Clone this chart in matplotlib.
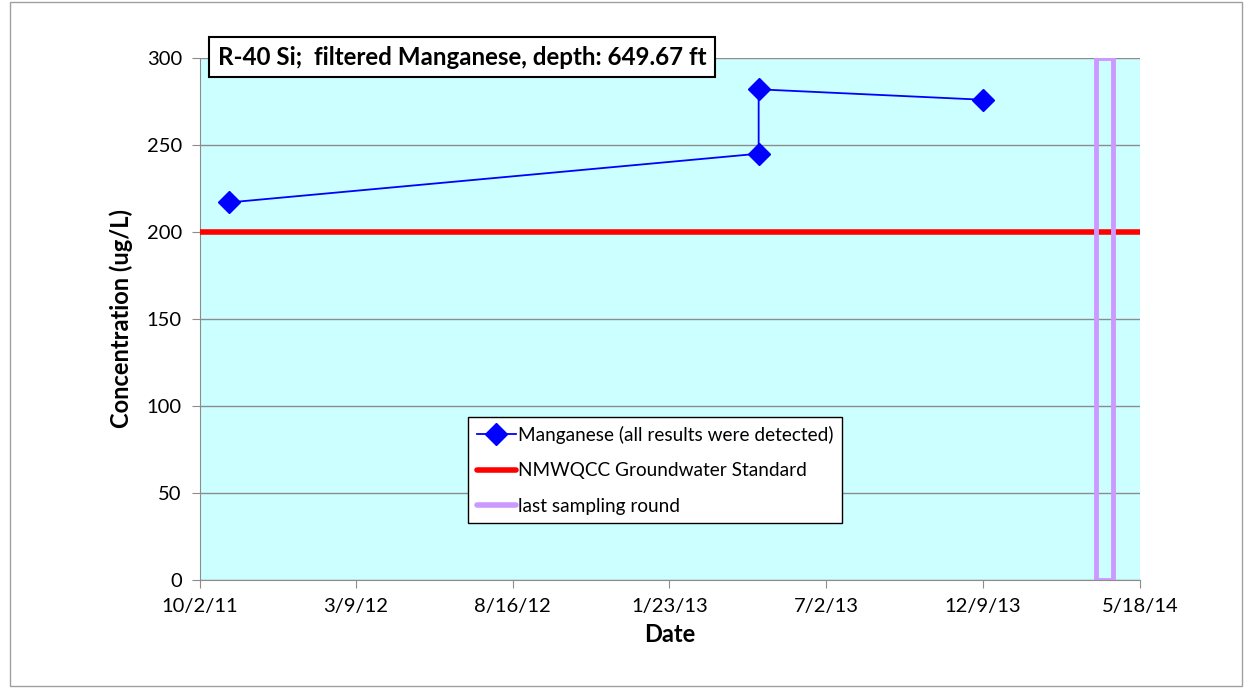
import datetime as dt
import matplotlib
matplotlib.use("Agg")
import matplotlib.pyplot as plt
import matplotlib.dates as mdates
from matplotlib.patches import Rectangle

# data
sample_dates = ["2011-11-01", "2013-04-24", "2013-04-24", "2013-12-09"]
manganese = [217, 245, 282, 276]
standard_value = 200
last_round_start = "2014-04-03"
last_round_end = "2014-04-20"
x_ticks = ["2011-10-02", "2012-03-09", "2012-08-16", "2013-01-23",
           "2013-07-02", "2013-12-09", "2014-05-18"]
x_tick_labels = ["10/2/11", "3/9/12", "8/16/12", "1/23/13", "7/2/13", "12/9/13", "5/18/14"]
y_ticks = [0, 50, 100, 150, 200, 250, 300]

to_date = lambda s: dt.datetime.strptime(s, "%Y-%m-%d")
dates = [to_date(d) for d in sample_dates]
ticks = [to_date(d) for d in x_ticks]

fig = plt.figure(figsize=(12.52, 6.88), dpi=100)
fig.patches.append(Rectangle((0.008, 0.003), 0.984, 0.994, transform=fig.transFigure,
                             fill=False, edgecolor="#a0a0a0", linewidth=1))
ax = fig.add_axes([0.1597, 0.157, 0.7508, 0.7587])
ax.set_facecolor("#ccffff")

ax.plot(dates, manganese, color="#0000ff", linewidth=1.3, marker="D", markersize=11,
        label="Manganese (all results were detected)", zorder=4)
ax.plot([ticks[0], ticks[-1]], [standard_value, standard_value], color="#ff0000",
        linewidth=4, label="NMWQCC Groundwater Standard", zorder=3, solid_capstyle="round")

x0 = mdates.date2num(to_date(last_round_start))
x1 = mdates.date2num(to_date(last_round_end))
ax.add_patch(Rectangle((x0, y_ticks[0]), x1 - x0, y_ticks[-1] - y_ticks[0], fill=False,
                       edgecolor="#cc99ff", linewidth=3.5, zorder=3))
ax.plot([], [], color="#cc99ff", linewidth=4, label="last sampling round",
        solid_capstyle="round")

ax.set_xlim(ticks[0], ticks[-1])
ax.set_ylim(y_ticks[0], y_ticks[-1])
ax.set_xticks(ticks)
ax.set_xticklabels(x_tick_labels)
ax.set_yticks(y_ticks)
ax.grid(axis="y", color="#8c8c8c", linewidth=1)
ax.set_axisbelow(True)
for side in ["top", "right"]:
    ax.spines[side].set_visible(False)
for side in ["left", "bottom"]:
    ax.spines[side].set_color("#8c8c8c")
ax.tick_params(axis="both", direction="out", length=6, color="#8c8c8c",
               labelsize=14.5, pad=7)
for lab in ax.get_xticklabels() + ax.get_yticklabels():
    lab.set_family("Lato")

ax.set_xlabel("Date", fontsize=17, fontweight="bold", family="Lato", labelpad=6)
ax.set_ylabel("Concentration (ug/L)", fontsize=17, fontweight="bold",
              family="Lato", labelpad=10)

fig.text(0.369, 0.917, "R-40 Si;  filtered Manganese, depth: 649.67 ft", fontsize=17.4,
         fontweight="bold", family="Lato", ha="center", va="center",
         bbox=dict(facecolor="white", edgecolor="black", linewidth=1.5, boxstyle="square,pad=0.35"))

leg = ax.legend(loc="upper left", bbox_to_anchor=(0.2851, 0.3123), frameon=True,
                fancybox=False, framealpha=1, borderpad=0.45, handlelength=2.1,
                labelspacing=0.98, handletextpad=0.1, borderaxespad=0,
                prop={"family": "Lato", "size": 13.7})
leg.get_frame().set_edgecolor("black")
leg.get_frame().set_linewidth(1)

fig.savefig("out.png", dpi=100)
